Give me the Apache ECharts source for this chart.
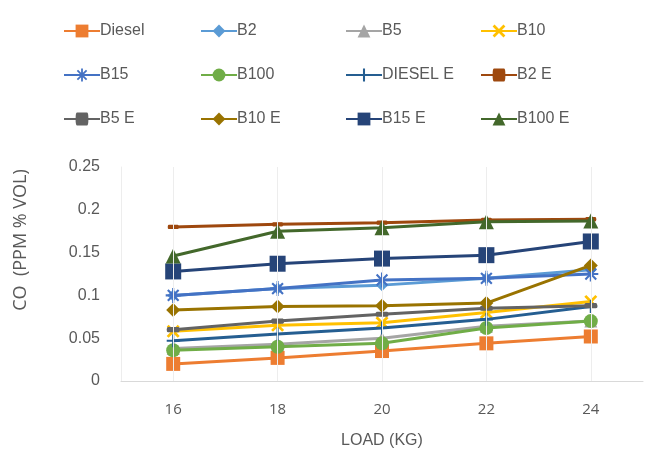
<!DOCTYPE html>
<html>
<head>
<meta charset="utf-8">
<script src="https://cdn.jsdelivr.net/npm/echarts@6/dist/echarts.min.js"></script>
<style>html,body{margin:0;padding:0;background:#fff}#c{width:656px;height:457px}</style>
</head>
<body>
<div id="c"></div>
<script>
var categories = ['16', '18', '20', '22', '24'];
var seriesNames = ['Diesel', 'B2', 'B5', 'B10', 'B15', 'B100', 'DIESEL E', 'B2 E', 'B5 E', 'B10 E', 'B15 E', 'B100 E'];
var diesel  = [0.020, 0.027, 0.035, 0.044, 0.052];
var b2      = [0.100, 0.108, 0.112, 0.120, 0.130];
var b5      = [0.038, 0.043, 0.050, 0.064, 0.070];
var b10     = [0.058, 0.065, 0.068, 0.080, 0.093];
var b15     = [0.100, 0.108, 0.118, 0.120, 0.125];
var b100    = [0.036, 0.040, 0.044, 0.062, 0.070];
var dieselE = [0.047, 0.055, 0.062, 0.072, 0.087];
var b2E     = [0.180, 0.183, 0.185, 0.188, 0.189];
var b5E     = [0.060, 0.070, 0.078, 0.085, 0.088];
var b10E    = [0.083, 0.087, 0.088, 0.091, 0.135];
var b15E    = [0.128, 0.137, 0.143, 0.147, 0.163];
var b100E   = [0.146, 0.175, 0.179, 0.186, 0.187];
var yTicks  = [0, 0.05, 0.1, 0.15, 0.2, 0.25];

var values = [diesel, b2, b5, b10, b15, b100, dieselE, b2E, b5E, b10E, b15E, b100E];
var colors = ['#ED7D31', '#5B9BD5', '#A5A5A5', '#FFC000', '#4472C4', '#70AD47',
              '#255E91', '#9E480E', '#636363', '#997300', '#264478', '#43682B'];
var X_PATH = 'path://M0,1.5L1.5,0L5,3.5L8.5,0L10,1.5L6.5,5L10,8.5L8.5,10L5,6.5L1.5,10L0,8.5L3.5,5Z';
var STAR_PATH = 'path://M4.3,0H5.7V3.3L8.1,0.9L9.1,1.9L6.7,4.3H10V5.7H6.7L9.1,8.1L8.1,9.1L5.7,6.7V10H4.3V6.7L1.9,9.1L0.9,8.1L3.3,5.7H0V4.3H3.3L0.9,1.9L1.9,0.9L4.3,3.3Z';
var PLUS_PATH = 'path://M4.2,0H5.8V4.2H10V5.8H5.8V10H4.2V5.8H0V4.2H4.2Z';
var DASH_PATH = 'path://M1,0H9Q10,0 10,2Q10,4 9,4H1Q0,4 0,2Q0,0 1,0Z';
var symbols = ['rect', 'diamond', 'triangle', X_PATH, STAR_PATH, 'circle',
               PLUS_PATH, DASH_PATH, DASH_PATH, 'diamond', 'rect', 'triangle'];
var sizes = [14, 12, 13, 13, 15, 14, 13, 11, 13, 14, 16, 15];

var series = values.map(function (v, i) {
  return {
    name: seriesNames[i], type: 'line', data: v,
    symbol: symbols[i], symbolSize: sizes[i], symbolKeepAspect: true,
    lineStyle: { color: colors[i], width: 3 },
    itemStyle: { color: colors[i] },
    z: 3 + i * 0.01, animation: false
  };
});
series.unshift({
  name: 'grid', type: 'line', data: [null, null, null, null, null], z: 1,
  silent: true, animation: false,
  markLine: {
    silent: true, symbol: 'none', animation: false,
    label: { show: false },
    lineStyle: { color: '#EDEDED', type: 'solid', width: 1 },
    data: categories.map(function (c) { return { xAxis: c }; })
  }
});

var font = "'Liberation Sans Narrow', 'Liberation Sans', sans-serif";
var legendCols = [58, 195, 340, 475];
var legends = legendCols.map(function (x, col) {
  return {
    orient: 'vertical', left: x, top: 18, itemGap: 28,
    itemWidth: 36, itemHeight: 16,
    textStyle: { fontFamily: font, fontSize: 16, color: '#595959', padding: [0, 0, 0, -5] },
    data: [seriesNames[col], seriesNames[col + 4], seriesNames[col + 8]]
  };
});

var chart = echarts.init(document.getElementById('c'), null, { renderer: 'canvas' });
chart.setOption({
  backgroundColor: '#fff',
  animation: false,
  legend: legends,
  grid: { left: 121, right: 13, top: 167, bottom: 76 },
  xAxis: {
    type: 'category', data: categories, boundaryGap: true,
    axisLine: { lineStyle: { color: '#D9D9D9', width: 1 } },
    axisTick: { show: false },
    splitLine: { show: false },
    axisLabel: { color: '#595959', fontSize: 15, margin: 21, fontFamily: "'Open Sans', sans-serif" },
    name: 'LOAD (KG)', nameLocation: 'middle', nameGap: 52,
    nameTextStyle: { color: '#595959', fontSize: 16, fontFamily: font }
  },
  yAxis: {
    type: 'value', min: 0, max: 0.25, interval: 0.05,
    axisLine: { show: true, lineStyle: { color: '#EDEDED' } },
    axisTick: { show: false },
    splitLine: { show: false },
    axisLabel: { color: '#595959', fontSize: 16, margin: 21, fontFamily: font,
      formatter: function (v) { return String(+v.toFixed(2)); } }
  },
  graphic: [{
    type: 'text', rotation: Math.PI / 2,
    x: 21, y: 240,
    style: { text: 'CO  (PPM % VOL)', fill: '#595959', font: "18px 'Open Sans', sans-serif", textAlign: 'center', textVerticalAlign: 'middle' }
  }],
  series: series
});
</script>
</body>
</html>
